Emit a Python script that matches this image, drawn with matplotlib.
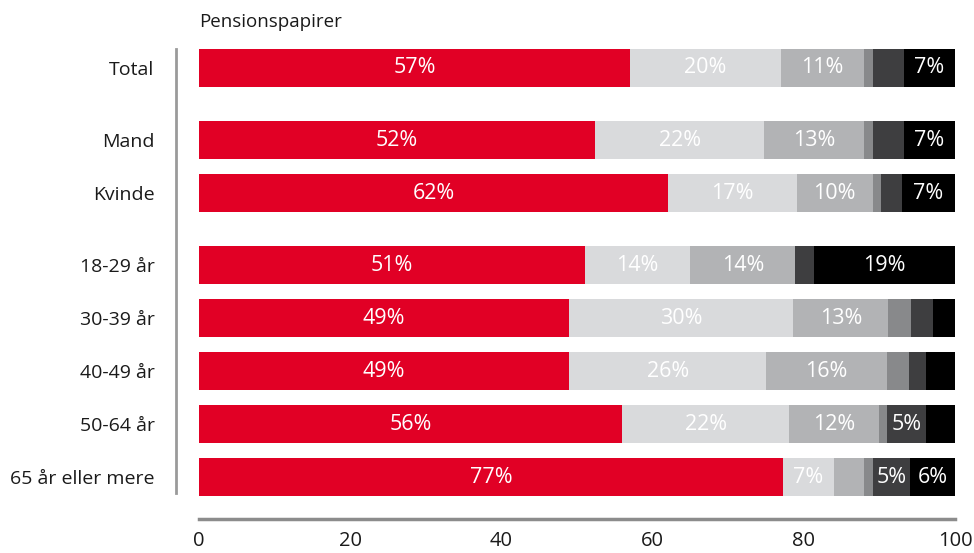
import numpy as np
import matplotlib
matplotlib.use("Agg")
import matplotlib.pyplot as plt

plt.rcParams["font.family"] = ["Open Sans", "DejaVu Sans"]

# ── Data (shares in %) ───────────────────────────────────────────────────
categories = ["Total", "Mand", "Kvinde", "18-29 år", "30-39 år",
              "40-49 år", "50-64 år", "65 år eller mere"]
groups = [0, 1, 1, 2, 2, 2, 2, 2]   # blocks separated by an extra gap

seg1 = [57.0, 52.4, 62.1, 51.0, 49.0, 49.0, 56.0, 77.2]
seg2 = [20.0, 22.4, 17.0, 14.0, 29.6, 26.0, 22.1, 6.8]
seg3 = [11.0, 13.2, 10.0, 13.9, 12.6, 16.0, 11.9, 4.0]
seg4 = [1.1, 1.1, 1.1, 0.0, 3.0, 2.9, 1.0, 1.1]
seg5 = [4.1, 4.1, 2.8, 2.5, 2.9, 2.2, 5.1, 5.0]
seg6 = [6.8, 6.8, 7.0, 18.6, 2.9, 3.9, 3.9, 5.9]

series = [seg1, seg2, seg3, seg4, seg5, seg6]
colors = ["#E10025", "#D9DADC", "#B2B3B5", "#88898B", "#3E3E40", "#000000"]

# ── Layout ────────────────────────────────────────────────────────────────
group_gap = 0.36
ypos = np.arange(len(categories)) + group_gap * np.array(groups)

fig = plt.figure(figsize=(9.74, 5.53), dpi=100)
ax = fig.add_axes([199 / 974, 34 / 553, 756 / 974, 479 / 553])

left = np.zeros(len(categories))
for vals, col in zip(series, colors):
    vals = np.array(vals)
    ax.barh(ypos, vals, left=left, height=0.72, color=col, linewidth=0)
    for y, l, v in zip(ypos, left, vals):
        if round(v) >= 5:
            ax.text(l + v / 2, y, f"{v:.0f}%", ha="center", va="center",
                    color="white", fontsize=15.5)
    left += vals

ax.set_xlim(0, 100)
ax.set_ylim(8.51, -0.528)

# spines first: moving a spine resets the tick labels
for s in ["top", "right"]:
    ax.spines[s].set_visible(False)
ax.spines["left"].set_position(("outward", 16.5))
ax.spines["left"].set_bounds(-0.36, 8.02)
ax.spines["left"].set_color("#9a9a9a")
ax.spines["left"].set_linewidth(2)
ax.spines["bottom"].set_color("#8c8c8c")
ax.spines["bottom"].set_linewidth(2.5)

ax.set_yticks(ypos)
ax.set_yticklabels(categories)
ax.set_xticks([0, 20, 40, 60, 80, 100])
ax.tick_params(axis="both", length=0, labelcolor="#1a1a1a")
ax.tick_params(axis="y", pad=15.5, labelsize=14)
ax.tick_params(axis="x", pad=9, labelsize=14.5)

fig.text(199 / 974, 1 - 22 / 553, "Pensionspapirer", ha="left", va="center",
         fontsize=13.5, color="#1a1a1a")

fig.savefig("out.png", dpi=100)
